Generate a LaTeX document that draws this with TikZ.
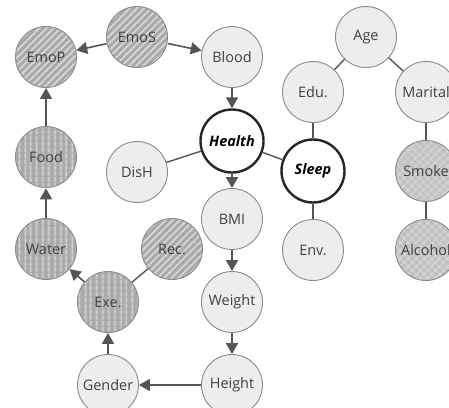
\documentclass[tikz,border=0pt]{standalone}
\usepackage{fontspec}
\setmainfont{Open Sans}
\usetikzlibrary{arrows.meta,patterns.meta}
\definecolor{edgegray}{HTML}{555555}
\definecolor{rimgray}{HTML}{8A8A8A}
\definecolor{stripebase}{HTML}{AAAAAA}
\definecolor{stripeline}{HTML}{DADADA}
\definecolor{dotfill}{HTML}{EDEDED}
\definecolor{hatchbase}{HTML}{C0C0C0}
\begin{document}
\begin{tikzpicture}[x=1bp,y=-1bp,
  var/.style={circle,minimum size=61bp,inner sep=0pt,draw=rimgray,line width=0.9bp,
    font=\fontsize{14.5}{16}\selectfont,text=black!75},
  plain/.style={var,fill=dotfill},
  diag/.style={var,preaction={fill=stripebase},
    pattern={Lines[angle=45,distance=5bp,line width=1.6bp]},pattern color=stripeline},
  vert/.style={var,preaction={fill=stripebase},
    pattern={Lines[angle=90,distance=6bp,line width=1.6bp]},pattern color=stripeline},
  hatch/.style={var,preaction={fill=hatchbase},
    pattern={Hatch[angle=45,distance=6bp,line width=1.4bp]},pattern color=stripeline},
  key/.style={var,fill=white,draw=black!85,line width=2.4bp,minimum size=63bp,
    font=\fontsize{14.5}{16}\selectfont\bfseries\itshape,text=black},
  arr/.style={draw=edgegray,line width=1.6bp,-{Triangle[length=11bp,width=12bp]}},
  link/.style={draw=edgegray,line width=1.4bp}]
\clip (0,0) rectangle (449,407);
\useasboundingbox (0,0) rectangle (449,407);

% emotional and lifestyle cycle
\node[diag]  (emos)   at (137,37)  {EmoS};
\node[diag]  (emop)   at (46,57)   {EmoP};
\node[vert]  (food)   at (46,157)  {Food};
\node[vert]  (water)  at (46,249)  {Water};
\node[vert]  (exe)    at (108,302) {Exe.};
\node[diag]  (rec)    at (172,249) {Rec.};
\node[plain] (gender) at (108,385) {Gender};

% body measures
\node[plain] (blood)  at (232,57)  {Blood};
\node[key]   (health) at (232,141) {Health};
\node[plain] (dish)   at (137,172) {DisH};
\node[plain] (bmi)    at (232,219) {BMI};
\node[plain] (weight) at (232,302) {Weight};
\node[plain] (height) at (232,385) {Height};

% sleep and social factors
\node[key]   (sleep)  at (313,171) {Sleep};
\node[plain] (edu)    at (313,92)  {Edu.};
\node[plain] (env)    at (313,250) {Env.};
\node[plain] (age)    at (366,37)  {Age};
\node[plain] (marital) at (426,92) {Marital};
\node[hatch] (smoke)  at (426,171) {Smoke};
\node[hatch] (alcohol) at (426,250) {Alcohol};

% directed links
\draw[arr] (emos) -- (emop);
\draw[arr] (emos) -- (blood);
\draw[arr] (blood) -- (health);
\draw[arr] (health) -- (bmi);
\draw[arr] (bmi) -- (weight);
\draw[arr] (weight) -- (height);
\draw[arr] (height) -- (gender);
\draw[arr] (gender) -- (exe);
\draw[arr] (exe) -- (water);
\draw[arr] (water) -- (food);
\draw[arr] (food) -- (emop);

% undirected links
\draw[link] (health) -- (dish);
\draw[link] (health) -- (sleep);
\draw[link] (sleep) -- (edu);
\draw[link] (sleep) -- (env);
\draw[link] (rec) -- (exe);
\draw[link] (age) -- (edu);
\draw[link] (age) -- (marital);
\draw[link] (marital) -- (smoke);
\draw[link] (smoke) -- (alcohol);
\end{tikzpicture}
\end{document}
